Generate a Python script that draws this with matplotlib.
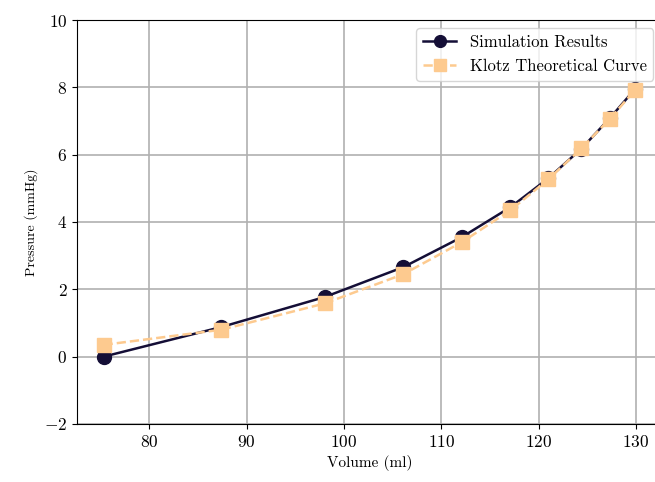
import matplotlib
matplotlib.use("Agg")
import matplotlib.pyplot as plt

plt.rcParams['font.family'] = ['cmr10', 'DejaVu Serif']
plt.rcParams['mathtext.fontset'] = 'cm'
plt.rcParams['axes.formatter.use_mathtext'] = True
plt.rcParams['axes.unicode_minus'] = True

sim_volume = [75.3, 87.4, 98.0, 106.1, 112.1, 117.1, 121.0, 124.4, 127.3, 129.9]
sim_pressure = [0.0, 0.88, 1.77, 2.66, 3.55, 4.44, 5.30, 6.18, 7.08, 7.95]
klotz_volume = [75.3, 87.4, 98.0, 106.1, 112.1, 117.1, 121.0, 124.4, 127.3, 129.9]
klotz_pressure = [0.35, 0.80, 1.58, 2.45, 3.40, 4.35, 5.27, 6.19, 7.06, 7.92]

sim_color = '#140e36'
klotz_color = '#fdca8f'

fig = plt.figure(figsize=(6.55, 4.82), dpi=100)
ax = fig.add_axes([77/655, 58/482, 584.6/655, 404/482])

ax.plot(sim_volume, sim_pressure, '-o', color=sim_color, lw=1.8, ms=10,
        label='Simulation Results', zorder=3)
ax.plot(klotz_volume, klotz_pressure, '--s', color=klotz_color, lw=1.8, ms=10,
        label='Klotz Theoretical Curve', zorder=4)

ax.set_ylim(-2, 10)
ax.set_xticks([80, 90, 100, 110, 120, 130])
ax.set_yticks([-2, 0, 2, 4, 6, 8, 10])
ax.tick_params(labelsize=12.5)
ax.grid(True, color='#b0b0b0', lw=1.2)
ax.set_axisbelow(True)
ax.set_xlabel('Volume (ml)', fontsize=11)
ax.set_ylabel('Pressure (mmHg)', fontsize=10)
ax.legend(loc='upper right', fontsize=12, markerscale=0.85)

fig.savefig('out.png', dpi=100)
